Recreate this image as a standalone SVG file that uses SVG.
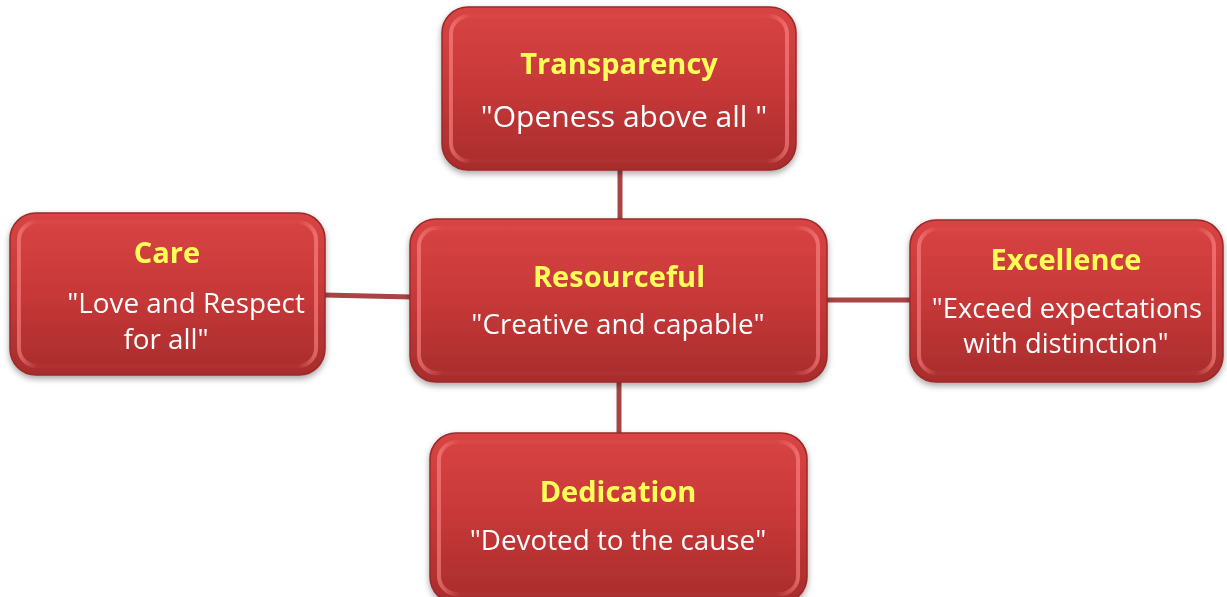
<svg xmlns="http://www.w3.org/2000/svg" width="1227" height="597" viewBox="0 0 1227 597">
<style>
.box{fill:url(#g);stroke:#9a2a2a;stroke-width:1.5}
.hl{fill:none;stroke:url(#hl);stroke-width:4}
.t{font-family:"Open Sans","Noto Sans",sans-serif;font-weight:bold;font-size:29px;fill:#ffff5a;text-anchor:middle}
.s{font-family:"Open Sans","Noto Sans",sans-serif;font-size:27.8px;fill:#ffffff;text-anchor:middle}
.c{stroke:#a84444;stroke-width:5;fill:none}
</style>
<defs>
<linearGradient id="g" x1="0" y1="0" x2="0" y2="1">
<stop offset="0" stop-color="#d94444"/>
<stop offset="0.5" stop-color="#c73838"/>
<stop offset="1" stop-color="#a82c2c"/>
</linearGradient>
<linearGradient id="hl" x1="0" y1="0" x2="1" y2="0">
<stop offset="0" stop-color="#ff8a8a" stop-opacity="0.6"/>
<stop offset="0.06" stop-color="#ff8a8a" stop-opacity="0.04"/>
<stop offset="0.94" stop-color="#ff8a8a" stop-opacity="0.04"/>
<stop offset="1" stop-color="#ff8a8a" stop-opacity="0.6"/>
</linearGradient>
<filter id="sh" x="-10%" y="-10%" width="120%" height="130%">
<feDropShadow dx="0" dy="3" stdDeviation="3" flood-color="#000" flood-opacity="0.35"/>
</filter>
</defs>
<g id="connectors">
<line class="c" x1="620" y1="168" x2="620" y2="221"/>
<line class="c" x1="323" y1="295" x2="412" y2="297"/>
<line class="c" x1="825" y1="300" x2="912" y2="300"/>
<line class="c" x1="619" y1="380" x2="619" y2="435"/>
</g>
<g id="transparency" filter="url(#sh)">
<rect class="box" x="442" y="7" width="354" height="163" rx="26"/>
<rect class="hl" x="451" y="16" width="336" height="145" rx="18"/>
<text class="t" x="619" y="74">Transparency</text>
<text class="s" x="624" y="127" style="font-size:30px">"Openess above all "</text>
</g>
<g id="care" filter="url(#sh)">
<rect class="box" x="10" y="213" width="315" height="162" rx="26"/>
<rect class="hl" x="19" y="222" width="297" height="144" rx="18"/>
<text class="t" x="167" y="263">Care</text>
<text class="s" x="186" y="313">"Love and Respect</text>
<text class="s" x="166" y="349">for all"</text>
</g>
<g id="resourceful" filter="url(#sh)">
<rect class="box" x="410" y="219" width="417" height="163" rx="26"/>
<rect class="hl" x="419" y="228" width="399" height="145" rx="18"/>
<text class="t" x="619" y="287">Resourceful</text>
<text class="s" x="618" y="334">"Creative and capable"</text>
</g>
<g id="excellence" filter="url(#sh)">
<rect class="box" x="910" y="220" width="313" height="162" rx="26"/>
<rect class="hl" x="919" y="229" width="295" height="144" rx="18"/>
<text class="t" x="1066" y="270">Excellence</text>
<text class="s" x="1067" y="318" style="font-size:27.3px">"Exceed expectations</text>
<text class="s" x="1066" y="353" style="font-size:27.3px">with distinction"</text>
</g>
<g id="dedication" filter="url(#sh)">
<rect class="box" x="430" y="433" width="377" height="170" rx="26"/>
<rect class="hl" x="439" y="442" width="359" height="152" rx="18"/>
<text class="t" x="618" y="502">Dedication</text>
<text class="s" x="618" y="550">"Devoted to the cause"</text>
</g>
</svg>
